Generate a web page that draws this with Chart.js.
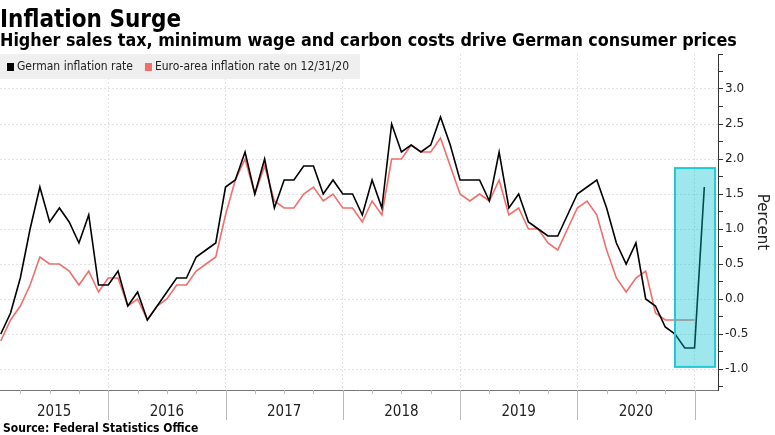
<!DOCTYPE html>
<html>
<head>
<meta charset="utf-8">
<script src="https://cdn.jsdelivr.net/npm/chart.js@4"></script>
<style>
html,body{margin:0;padding:0;background:#fff;}
canvas{display:block;}
</style>
</head>
<body>
<canvas id="chart" width="775" height="435"></canvas>
<script>
// INFLATION SURGE - German vs euro-area inflation

const years = ["2015","2016","2017","2018","2019","2020"];

// monthly, Jan 2015 .. Jan 2021
const germany = [
-0.5,-0.2,0.3,1.0,1.6,1.1,1.3,1.1,0.8,1.2,0.2,0.2,
0.4,-0.1,0.1,-0.3,-0.1,0.1,0.3,0.3,0.6,0.7,0.8,1.6,
1.7,2.1,1.5,2.0,1.3,1.7,1.7,1.9,1.9,1.5,1.7,1.5,
1.5,1.2,1.7,1.3,2.5,2.1,2.2,2.1,2.2,2.6,2.2,1.7,
1.7,1.7,1.4,2.1,1.3,1.5,1.1,1.0,0.9,0.9,1.2,1.5,
1.6,1.7,1.3,0.8,0.5,0.8,0.0,-0.1,-0.4,-0.5,-0.7,-0.7,
1.6
];

// monthly, Jan 2015 .. Dec 2020
const euroArea = [
-0.6,-0.3,-0.1,0.2,0.6,0.5,0.5,0.4,0.2,0.4,0.1,0.3,
0.3,-0.1,0.0,-0.3,-0.1,0.0,0.2,0.2,0.4,0.5,0.6,1.2,
1.7,2.0,1.5,1.9,1.4,1.3,1.3,1.5,1.6,1.4,1.5,1.3,
1.3,1.1,1.4,1.2,2.0,2.0,2.2,2.1,2.1,2.3,1.9,1.5,
1.4,1.5,1.4,1.7,1.2,1.3,1.0,1.0,0.8,0.7,1.0,1.3,
1.4,1.2,0.7,0.3,0.1,0.3,0.4,-0.2,-0.3,-0.3,-0.3,-0.3
];

const yTickValues = [-1.25,-1,-0.75,-0.5,-0.25,0,0.25,0.5,0.75,1,1.25,1.5,1.75,2,2.25,2.5,2.75,3,3.25,3.5];
const yLabelled = [-1,-0.5,0,0.5,1,1.5,2,2.5,3];

// highlighted latest reading (in data units: month index / percent)
const highlight = {from: 69, to: 73.1, low: -0.97, high: 1.87};

const monthNames = ["Jan","Feb","Mar","Apr","May","Jun","Jul","Aug","Sep","Oct","Nov","Dec"];
const months = [];
years.forEach(y => monthNames.forEach(m => months.push(m + " " + y)));
months.push("Jan 2021");

const BLACK = "#000000";
const RED = "#f26e6a";
const COND = "'DejaVu Sans Condensed', 'DejaVu Sans'";
const isLabelled = v => yLabelled.some(t => Math.abs(t - v) < 1e-6);
const isMajor = v => Math.abs(v*2 - Math.round(v*2)) < 1e-6;

const decor = {
  id: "decor",
  beforeDraw(chart){
    const c = chart.ctx;
    c.save();
    c.fillStyle = "#fff";
    c.fillRect(0,0,chart.width,chart.height);
    c.restore();
  },
  afterDatasetsDraw(chart){
    const c = chart.ctx, x = chart.scales.x, y = chart.scales.y;
    const l = x.getPixelForValue(highlight.from), r = x.getPixelForValue(highlight.to);
    const t = y.getPixelForValue(highlight.high), b = y.getPixelForValue(highlight.low);
    c.save();
    c.fillStyle = "rgba(0,195,208,0.38)";
    c.fillRect(l,t,r-l,b-t);
    c.strokeStyle = "#22c8d2";
    c.lineWidth = 2;
    c.strokeRect(l,t,r-l,b-t);
    c.restore();
  },
  afterDraw(chart){
    const c = chart.ctx, x = chart.scales.x, area = chart.chartArea;
    c.save();

    // titles
    c.fillStyle = "#000";
    c.textBaseline = "alphabetic";
    c.textAlign = "left";
    c.font = "bold 24px " + COND;
    c.fillText("Inflation Surge", 0, 27);
    c.font = "bold 17.8px " + COND;
    c.fillText("Higher sales tax, minimum wage and carbon costs drive German consumer prices", 0, 46);
    c.font = "bold 12px " + COND;
    c.fillText("Source: Federal Statistics Office", 3, 432);

    // legend
    c.fillStyle = "#efefef";
    c.fillRect(0, area.top, 360, 25);
    c.font = "12px " + COND;
    c.textBaseline = "middle";
    let lx = 7;
    chart.data.datasets.forEach(ds => {
      c.fillStyle = ds.borderColor;
      c.fillRect(lx, area.top + 9, 7, 8);
      c.fillStyle = "#222";
      c.fillText(ds.label, lx + 10, area.top + 13);
      lx += 10 + c.measureText(ds.label).width + 12;
    });

    // year separators, quarter ticks, year labels
    c.strokeStyle = "#bbb";
    c.lineWidth = 1;
    for (let k = 0; k < years.length; k++) {
      const b = 11 + 12*k;
      const px = Math.round(x.getPixelForValue(b)) + 0.5;
      c.beginPath(); c.moveTo(px, area.bottom); c.lineTo(px, area.bottom + 30); c.stroke();
      [2,5,8].forEach(q => {
        const qx = Math.round(x.getPixelForValue(12*k + q)) + 0.5;
        c.beginPath(); c.moveTo(qx, area.bottom); c.lineTo(qx, area.bottom + 4); c.stroke();
      });
    }
    c.fillStyle = "#222";
    c.font = "15px " + COND;
    c.textAlign = "center";
    c.textBaseline = "alphabetic";
    years.forEach((yr, k) => {
      const a = Math.max(x.min, 12*k - 1), b = Math.min(x.max, 12*k + 11);
      c.fillText(yr, x.getPixelForValue((a+b)/2), area.bottom + 26);
    });
    c.restore();
  }
};

const ctx = document.getElementById("chart").getContext("2d");

const chart = new Chart(ctx, {
  type: "line",
  data: {
    labels: months,
    datasets: [
      {
        label: "German inflation rate",
        data: germany.map((v,i) => ({x:i, y:v})),
        borderColor: BLACK,
        borderWidth: 1.6,
        pointRadius: 0,
        tension: 0
      },
      {
        label: "Euro-area inflation rate on 12/31/20",
        data: euroArea.map((v,i) => ({x:i, y:v})),
        borderColor: RED,
        borderWidth: 1.6,
        pointRadius: 0,
        tension: 0
      }
    ]
  },
  options: {
    responsive: false,
    animation: false,
    layout: { padding: {top: 54, left: 0, right: 0, bottom: 0} },
    plugins: {
      legend: {display: false},
      tooltip: {enabled: false}
    },
    scales: {
      x: {
        type: "linear",
        min: -0.08,
        max: 73.4,
        afterBuildTicks: s => { s.ticks = [11,23,35,47,59,71].map(v => ({value: v})); },
        afterFit: s => { s.height = 45; },
        ticks: {display: false},
        grid: {color: "#e2e2e2", drawTicks: false},
        border: {display: true, color: "#777", width: 1, dash: [2,2]}
      },
      y: {
        position: "right",
        min: -1.3,
        max: 3.5,
        afterBuildTicks: s => { s.ticks = yTickValues.map(v => ({value: v})); },
        afterFit: s => { s.width = 57; },
        ticks: {
          padding: 2,
          color: "#222",
          font: {family: "'DejaVu Sans'", size: 12},
          callback: v => isLabelled(v) ? v.toFixed(1) : ""
        },
        grid: {
          color: c => (c.tick && isMajor(c.tick.value) && c.tick.value < 3.4) ? "#e2e2e2" : "rgba(0,0,0,0)",
          tickColor: "#333",
          tickLength: 5
        },
        border: {display: true, color: "#333", width: 1, dash: [2,2]},
        title: {
          display: true,
          text: "Percent",
          color: "#222",
          font: {family: "'DejaVu Sans'", size: 15},
          padding: {top: 4, bottom: 0}
        }
      }
    }
  },
  plugins: [decor]
});
</script>
</body>
</html>
